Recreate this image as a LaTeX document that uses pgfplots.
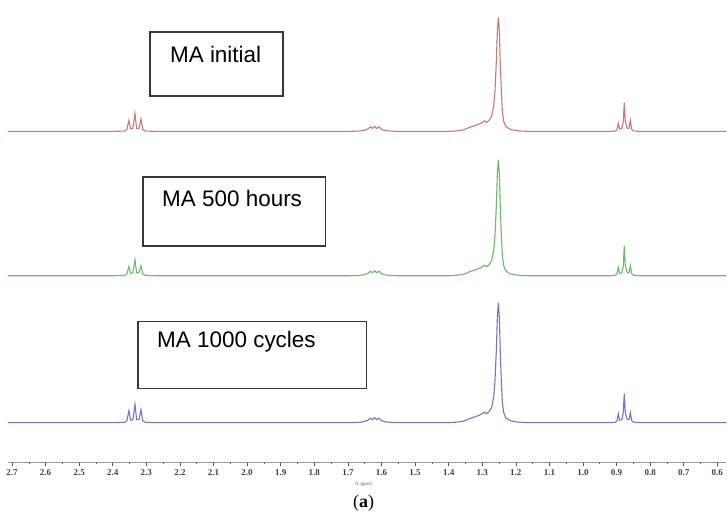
\documentclass[border=0pt]{standalone}
\usepackage{pgfplots}
\pgfplotsset{compat=1.18}
\usepackage{pgfplotstable}
\usepackage{fontspec}
\setmainfont{Liberation Sans}
\newfontfamily\seriffont{Liberation Serif}
\definecolor{specred}{RGB}{200,118,118}
\definecolor{specgreen}{RGB}{108,184,108}
\definecolor{specblue}{RGB}{116,116,200}
\definecolor{boxline}{RGB}{55,55,55}
\definecolor{axisgray}{RGB}{150,150,150}

% ppm, height above baseline (px)
\pgfplotstableread{
ppm h
2.712 0
2.40 0
2.365 0.3
2.358 2
2.352 11
2.347 2.5
2.340 3
2.334 18
2.329 3
2.322 3
2.316 12.5
2.311 2
2.303 0.3
2.27 0
1.70 0
1.665 0.3
1.65 1.2
1.640 2.5
1.633 4.5
1.627 3
1.620 5
1.614 3
1.607 4.5
1.600 2
1.59 1
1.575 0.3
1.55 0
1.40 0
1.376 0.5
1.355 1.5
1.338 4
1.32 6
1.305 8
1.293 10.5
1.287 9
1.280 11
1.272 15
1.266 25
1.262 40
1.258 70
1.255 100
1.252 114
1.249 100
1.246 65
1.243 40
1.240 20
1.236 10
1.230 5
1.222 3
1.214 1.8
1.20 0.8
1.185 0.3
1.16 0
0.92 0
0.905 0.3
0.899 1.5
0.895 8.3
0.891 2.5
0.884 3
0.880 10
0.877 28.7
0.874 10
0.868 3
0.863 3
0.859 11
0.855 2
0.848 0.3
0.83 0
0.573 0
}\redtab

\pgfplotstableread{
ppm h
2.712 0
2.40 0
2.365 0.3
2.358 1.8
2.352 9
2.347 2.3
2.340 3
2.334 16
2.329 3
2.322 3
2.316 10
2.311 2
2.303 0.3
2.27 0
1.70 0
1.665 0.3
1.65 1.2
1.640 2.5
1.633 4.5
1.627 3
1.620 5
1.614 3
1.607 4.5
1.600 2
1.59 1
1.575 0.3
1.55 0
1.40 0
1.376 0.5
1.355 1.5
1.338 4
1.32 6
1.305 8
1.293 10.5
1.287 9
1.280 11
1.272 15
1.266 25
1.262 40
1.258 70
1.255 102
1.252 116
1.249 102
1.246 66
1.243 40
1.240 20
1.236 10
1.230 5
1.222 3
1.214 1.8
1.20 0.8
1.185 0.3
1.16 0
0.92 0
0.905 0.3
0.899 1.5
0.895 8.5
0.891 2.5
0.884 3
0.880 10
0.877 30
0.874 10
0.868 3
0.863 3
0.859 10
0.855 2
0.848 0.3
0.83 0
0.573 0
}\greentab

\pgfplotstableread{
ppm h
2.712 0
2.40 0
2.365 0.3
2.358 2
2.352 12
2.347 2.5
2.340 3
2.334 18.5
2.329 3
2.322 3
2.316 13
2.311 2
2.303 0.3
2.27 0
1.70 0
1.665 0.3
1.65 1.2
1.640 2.5
1.633 4.5
1.627 3
1.620 5
1.614 3
1.607 4.5
1.600 2
1.59 1
1.575 0.3
1.55 0
1.40 0
1.376 0.5
1.355 1.5
1.338 4
1.32 6
1.305 8
1.293 10.5
1.287 9
1.280 11
1.272 15
1.266 25
1.262 42
1.258 72
1.255 105
1.252 120
1.249 105
1.246 68
1.243 40
1.240 20
1.236 10
1.230 5
1.222 3
1.214 1.8
1.20 0.8
1.185 0.3
1.16 0
0.92 0
0.905 0.3
0.899 1.5
0.895 9
0.891 2.5
0.884 3
0.880 10
0.877 29
0.874 10
0.868 3
0.863 3
0.859 10
0.855 2
0.848 0.3
0.83 0
0.573 0
}\bluetab

\begin{document}
\begin{tikzpicture}[x=1bp,y=1bp]
\path (0,0) rectangle (727,518);
\begin{axis}[
  at={(8bp,55bp)}, anchor=south west,
  scale only axis, width=719bp, height=463bp,
  xmin=0.573, xmax=2.712, x dir=reverse,
  ymin=0, ymax=463,
  axis y line=none,
  axis x line=bottom,
  x axis line style={-, draw=axisgray, line width=1.2bp},
  xtick={0.6,0.7,0.8,0.9,1.0,1.1,1.2,1.3,1.4,1.5,1.6,1.7,1.8,1.9,2.0,2.1,2.2,2.3,2.4,2.5,2.6,2.7},
  minor xtick={0.65,0.75,0.85,0.95,1.05,1.15,1.25,1.35,1.45,1.55,1.65,1.75,1.85,1.95,2.05,2.15,2.25,2.35,2.45,2.55,2.65},
  tick align=outside,
  major tick length=3bp, minor tick length=1.5bp,
  tick style={draw=black!70, line width=0.6bp},
  xticklabel style={font=\seriffont\bfseries\fontsize{9bp}{10bp}\selectfont, text=black!75, inner sep=1.5bp, yshift=-2.5bp},
  /pgf/number format/.cd, fixed, fixed zerofill, precision=1, assume math mode=true,
]
\addplot[specred, line width=1.1bp] table[x=ppm, y expr=\thisrow{h}+331.5] {\redtab};
\addplot[specgreen, line width=1.1bp] table[x=ppm, y expr=\thisrow{h}+187] {\greentab};
\addplot[specblue, line width=1.1bp] table[x=ppm, y expr=\thisrow{h}+40] {\bluetab};
\end{axis}
% annotation boxes
\draw[boxline, line width=1.5bp] (150,422) rectangle (283,486);
\node[anchor=base west, inner sep=0pt, font=\fontsize{22.5bp}{27bp}\selectfont] at (170,455) {MA initial};
\draw[boxline, line width=1.5bp] (143,272) rectangle (326,341);
\node[anchor=base west, inner sep=0pt, font=\fontsize{22.5bp}{27bp}\selectfont] at (162,311) {MA 500 hours};
\draw[boxline, line width=1.5bp] (138,129) rectangle (367,196);
\node[anchor=base west, inner sep=0pt, font=\fontsize{22.5bp}{27bp}\selectfont] at (157,170) {MA 1000 cycles};
% axis caption
\node[font=\fontsize{4.5bp}{5bp}\selectfont, text=black!60] at (364,33) {f1 (ppm)};
\node[font=\seriffont\fontsize{18bp}{20bp}\selectfont] at (364,14) {(\textbf{a})};
\end{tikzpicture}
\end{document}
